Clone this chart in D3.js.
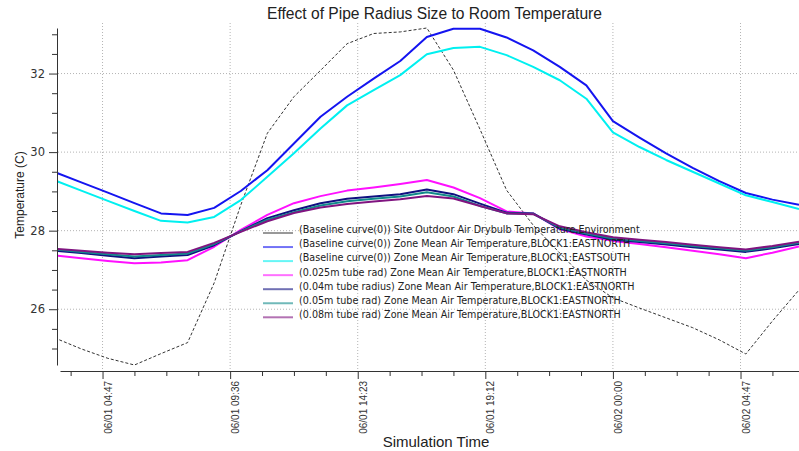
<!DOCTYPE html>
<html>
<head>
<meta charset="utf-8">
<script src="https://cdn.jsdelivr.net/npm/d3@7/dist/d3.min.js"></script>
<style>
  body { margin: 0; background: #fff; }
  svg { display: block; }
</style>
</head>
<body>
<svg></svg>
<script>
// hours since 06/01 00:00, one reading per hour
let hours = [3, 4, 5, 6, 7, 8, 9, 10, 11, 12, 13, 14, 15, 16, 17, 18, 19, 20, 21, 22, 23, 24, 25, 26, 27, 28, 29, 30, 31]

let outdoor = [25.27, 24.99, 24.75, 24.58, 24.87, 25.15, 26.67, 28.65, 30.48, 31.41, 32.08, 32.76, 33.02, 33.06, 33.16, 32.09, 30.58, 29.03, 28.14, 27.43, 26.74, 26.29, 26.03, 25.78, 25.53, 25.22, 24.86, 25.70, 26.49]
let baseNorth = [29.49, 29.23, 28.97, 28.70, 28.44, 28.40, 28.58, 29.01, 29.54, 30.22, 30.90, 31.41, 31.87, 32.32, 32.93, 33.14, 33.14, 32.92, 32.59, 32.17, 31.70, 30.79, 30.37, 29.97, 29.60, 29.26, 28.96, 28.79, 28.66]
let baseSouth = [29.28, 29.02, 28.76, 28.50, 28.25, 28.21, 28.35, 28.78, 29.37, 29.97, 30.60, 31.19, 31.58, 31.96, 32.49, 32.65, 32.68, 32.47, 32.17, 31.83, 31.36, 30.50, 30.13, 29.80, 29.50, 29.20, 28.90, 28.73, 28.55]
let tube025 = [27.37, 27.30, 27.23, 27.17, 27.19, 27.25, 27.59, 28.02, 28.40, 28.70, 28.88, 29.02, 29.10, 29.19, 29.29, 29.10, 28.83, 28.49, 28.44, 28.04, 27.85, 27.74, 27.66, 27.58, 27.49, 27.40, 27.30, 27.44, 27.60]
let tube04 = [27.49, 27.43, 27.36, 27.30, 27.34, 27.38, 27.63, 27.99, 28.32, 28.52, 28.70, 28.81, 28.87, 28.93, 29.05, 28.93, 28.69, 28.46, 28.44, 28.05, 27.90, 27.77, 27.71, 27.65, 27.58, 27.52, 27.46, 27.55, 27.66]
let tube05 = [27.52, 27.46, 27.40, 27.34, 27.38, 27.42, 27.66, 27.98, 28.28, 28.47, 28.64, 28.75, 28.81, 28.87, 28.98, 28.87, 28.63, 28.44, 28.43, 28.08, 27.93, 27.80, 27.74, 27.68, 27.61, 27.55, 27.49, 27.58, 27.69]
let tube08 = [27.54, 27.49, 27.44, 27.40, 27.43, 27.46, 27.69, 27.97, 28.24, 28.45, 28.59, 28.68, 28.74, 28.80, 28.88, 28.82, 28.63, 28.44, 28.42, 28.11, 27.96, 27.83, 27.77, 27.71, 27.64, 27.58, 27.52, 27.61, 27.72]

let seriesNames = [
  '(Baseline curve(0)) Site Outdoor Air Drybulb Temperature,Environment',
  '(Baseline curve(0)) Zone Mean Air Temperature,BLOCK1:EASTNORTH',
  '(Baseline curve(0)) Zone Mean Air Temperature,BLOCK1:EASTSOUTH',
  '(0.025m tube rad) Zone Mean Air Temperature,BLOCK1:EASTNORTH',
  '(0.04m tube radius) Zone Mean Air Temperature,BLOCK1:EASTNORTH',
  '(0.05m tube rad) Zone Mean Air Temperature,BLOCK1:EASTNORTH',
  '(0.08m tube rad) Zone Mean Air Temperature,BLOCK1:EASTNORTH'
]
let seriesColors = ['#333333', '#1414f0', '#00f0f0', '#ff10ff', '#101080', '#108a8a', '#801480']

let xTicks = [4.8, 9.6, 14.4, 19.2, 24, 28.8]
let xTickLabels = ['06/01 04:47', '06/01 09:36', '06/01 14:23', '06/01 19:12', '06/02 00:00', '06/02 04:47']
let xMinorTicks = [3.6, 6, 7.2, 8.4, 10.8, 12, 13.2, 15.6, 16.8, 18, 20.4, 21.6, 22.8, 25.2, 26.4, 27.6, 30]
let yTicks = [26, 28, 30, 32]
let yMinorTicks = [25, 25.5, 26.5, 27, 27.5, 28.5, 29, 29.5, 30.5, 31, 31.5, 32.5, 33]

let width = 799
let height = 451

let svg = d3.select('svg')
  .attr('width', width)
  .attr('height', height)

let xScale = d3.scaleLinear().domain([3.2, 31]).range([60, 799])
let yScale = d3.scaleLinear().domain([24.58, 33.16]).range([365, 28])

let series = [outdoor, baseNorth, baseSouth, tube025, tube04, tube05, tube08]

// grid
svg.append('g')
  .selectAll('line')
  .data(yTicks)
  .enter()
  .append('line')
  .attr('x1', 58)
  .attr('x2', width)
  .attr('y1', (d) => yScale(d))
  .attr('y2', (d) => yScale(d))
  .attr('stroke', '#b4b4b4')
  .attr('stroke-dasharray', '1,2')

svg.append('g')
  .selectAll('line')
  .data(xTicks)
  .enter()
  .append('line')
  .attr('x1', (d) => xScale(d))
  .attr('x2', (d) => xScale(d))
  .attr('y1', 23)
  .attr('y2', 371)
  .attr('stroke', '#b4b4b4')
  .attr('stroke-dasharray', '1,2')

// axes
let yAxis = svg.append('g')
  .attr('transform', 'translate(57, 0)')
  .call(d3.axisLeft(yScale).tickValues(yTicks).tickSize(8).tickSizeOuter(0).tickPadding(4).tickFormat(d3.format('d')))
yAxis.select('.domain').attr('stroke', '#333')
yAxis.selectAll('.tick line').attr('stroke', '#333')
yAxis.selectAll('.tick text')
  .style('font-family', 'DejaVu Sans')
  .style('font-size', '11.5px')
  .attr('fill', '#333')

svg.append('g')
  .attr('transform', 'translate(57, 0)')
  .call(d3.axisLeft(yScale).tickValues(yMinorTicks).tickSize(5).tickFormat(''))
  .call((g) => g.select('.domain').remove())
  .selectAll('.tick line').attr('stroke', '#333')

let xAxis = svg.append('g')
  .attr('transform', 'translate(0, 371)')
  .call(d3.axisBottom(xScale).tickValues(xTicks).tickSize(8).tickSizeOuter(0).tickFormat((d, i) => xTickLabels[i]))
xAxis.select('.domain').attr('stroke', '#333')
xAxis.selectAll('.tick line').attr('stroke', '#333')
xAxis.selectAll('.tick text')
  .attr('transform', 'rotate(-90)')
  .attr('text-anchor', 'end')
  .attr('x', -10)
  .attr('y', 5)
  .attr('dy', '0.35em')
  .style('font-family', 'Liberation Sans')
  .style('font-size', '10px')
  .attr('fill', '#333')

svg.append('g')
  .attr('transform', 'translate(0, 371)')
  .call(d3.axisBottom(xScale).tickValues(xMinorTicks).tickSize(5).tickFormat(''))
  .call((g) => g.select('.domain').remove())
  .selectAll('.tick line').attr('stroke', '#333')

// lines
svg.append('clipPath')
  .attr('id', 'plot-clip')
  .append('rect')
  .attr('x', 58)
  .attr('y', 24)
  .attr('width', width - 58)
  .attr('height', 344)

let line = (values) => d3.line()
  .x((d, i) => xScale(hours[i]))
  .y((d) => yScale(d))(values)

svg.append('g')
  .attr('clip-path', 'url(#plot-clip)')
  .selectAll('path')
  .data(series)
  .enter()
  .append('path')
  .attr('d', (d) => line(d))
  .attr('fill', 'none')
  .attr('stroke', (d, i) => seriesColors[i])
  .attr('stroke-width', (d, i) => i === 0 ? 1 : 2)
  .attr('stroke-dasharray', (d, i) => i === 0 ? '3,2' : null)
  .attr('stroke-linejoin', 'round')

// legend
let legend = svg.append('g')
  .selectAll('g')
  .data(seriesNames)
  .enter()
  .append('g')
  .attr('transform', (d, i) => 'translate(263, ' + (230 + i * 14.05) + ')')

legend.append('line')
  .attr('x1', 0)
  .attr('x2', 30)
  .attr('y1', 3)
  .attr('y2', 3)
  .attr('stroke', (d, i) => seriesColors[i])
  .attr('stroke-width', (d, i) => i === 0 ? 1 : 2)
  .attr('stroke-opacity', (d, i) => i === 0 ? 1 : 0.6)

legend.append('text')
  .attr('x', 36)
  .attr('dy', '0.35em')
  .style('font-family', 'DejaVu Sans')
  .style('font-size', '9.6px')
  .attr('fill', '#222')
  .text((d) => d)

// titles
svg.append('text')
  .attr('x', 434.5)
  .attr('y', 19)
  .style('text-anchor', 'middle')
  .style('font-family', 'Liberation Sans')
  .style('font-size', '15.6px')
  .attr('fill', '#222')
  .text('Effect of Pipe Radius Size to Room Temperature')

svg.append('text')
  .attr('transform', 'translate(24, 195) rotate(-90)')
  .style('text-anchor', 'middle')
  .style('font-family', 'Liberation Sans')
  .style('font-size', '12px')
  .attr('fill', '#222')
  .text('Temperature (C)')

svg.append('text')
  .attr('x', 436)
  .attr('y', 447)
  .style('text-anchor', 'middle')
  .style('font-family', 'Liberation Sans')
  .style('font-size', '15px')
  .attr('fill', '#222')
  .text('Simulation Time')
</script>
</body>
</html>
